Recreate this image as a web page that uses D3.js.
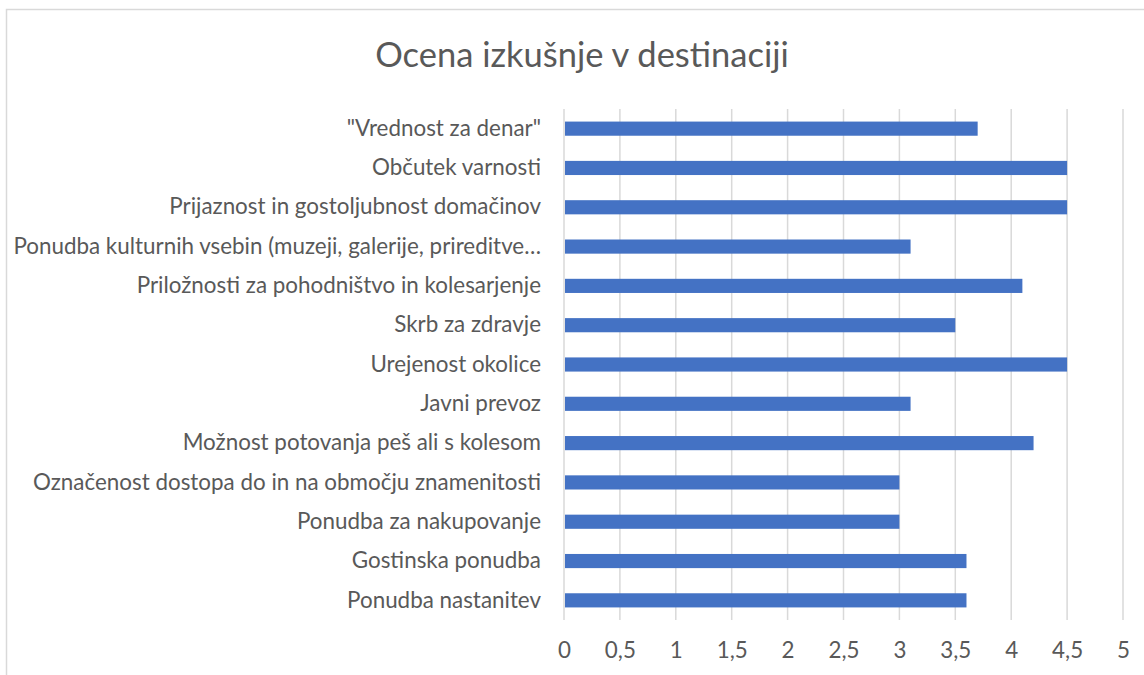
<!DOCTYPE html>
<html>
<head>
<meta charset="utf-8">
<script src="https://cdn.jsdelivr.net/npm/d3@7"></script>
<style>
  body { margin: 0; background: #fff; }
  svg { display: block; font-family: Lato, "Noto Sans", sans-serif; }
</style>
</head>
<body>
<svg id="chart" width="1144" height="675"></svg>
<script>
// categories listed top to bottom
const categories = [
  '"Vrednost za denar"',
  'Občutek varnosti',
  'Prijaznost in gostoljubnost domačinov',
  'Ponudba kulturnih vsebin (muzeji, galerije, prireditve…',
  'Priložnosti za pohodništvo in kolesarjenje',
  'Skrb za zdravje',
  'Urejenost okolice',
  'Javni prevoz',
  'Možnost potovanja peš ali s kolesom',
  'Označenost dostopa do in na območju znamenitosti',
  'Ponudba za nakupovanje',
  'Gostinska ponudba',
  'Ponudba nastanitev'
];
const values = [3.7, 4.5, 4.5, 3.1, 4.1, 3.5, 4.5, 3.1, 4.2, 3.0, 3.0, 3.6, 3.6];
const ticks = [0, 0.5, 1, 1.5, 2, 2.5, 3, 3.5, 4, 4.5, 5];
const title = 'Ocena izkušnje v destinaciji';

const width = 1144, height = 675;
const margin = {top: 109, right: 21, bottom: 55, left: 564};
const textColor = '#595959';
const gridColor = '#d9d9d9';
const barColor = '#4472c4';
const labelSize = '22.4px';

const svg = d3.select('#chart');

// chart area border (runs off the right and bottom edges)
svg.append('rect')
    .attr('x', 6.5).attr('y', 9.5)
    .attr('width', width + 20).attr('height', height + 20)
    .attr('fill', '#fff')
    .attr('stroke', gridColor)
    .attr('stroke-width', 1.5);

svg.append('text')
    .attr('x', 582)
    .attr('y', 67)
    .attr('text-anchor', 'middle')
    .attr('fill', textColor)
    .style('font-size', '34.5px')
    .text(title);

const x = d3.scaleLinear()
    .domain([0, 5])
    .range([margin.left, width - margin.right]);

const y = d3.scaleBand()
    .domain(categories)
    .range([margin.top, height - margin.bottom])
    .paddingInner(0.64)
    .paddingOuter(0.32);

// vertical gridlines
svg.append('g')
    .selectAll('line')
    .data(ticks)
    .enter().append('line')
    .attr('x1', d => x(d)).attr('x2', d => x(d))
    .attr('y1', margin.top).attr('y2', height - margin.bottom)
    .attr('stroke', gridColor)
    .attr('stroke-width', 1.5);

// x axis labels
const xAxis = d3.axisBottom(x)
    .tickValues(ticks)
    .tickSize(0)
    .tickPadding(22)
    .tickFormat(d => String(d).replace('.', ','));

const gx = svg.append('g')
    .attr('transform', 'translate(0,' + (height - margin.bottom) + ')')
    .call(xAxis);
gx.select('.domain').remove();
gx.selectAll('text')
    .attr('fill', textColor)
    .style('font-size', labelSize)
    .style('font-family', 'Lato, "Noto Sans", sans-serif');

// category labels
const yAxis = d3.axisLeft(y)
    .tickSize(0)
    .tickPadding(23);

const gy = svg.append('g')
    .attr('transform', 'translate(' + margin.left + ',0)')
    .call(yAxis);
gy.select('.domain').remove();
gy.selectAll('text')
    .attr('fill', textColor)
    .style('font-size', labelSize)
    .style('font-family', 'Lato, "Noto Sans", sans-serif');

// bars
svg.append('g')
    .selectAll('rect')
    .data(values)
    .enter().append('rect')
    .attr('x', x(0) + 1)
    .attr('y', (d, i) => y(categories[i]))
    .attr('width', d => x(d) - x(0) - 1)
    .attr('height', y.bandwidth())
    .attr('fill', barColor);
</script>
</body>
</html>
